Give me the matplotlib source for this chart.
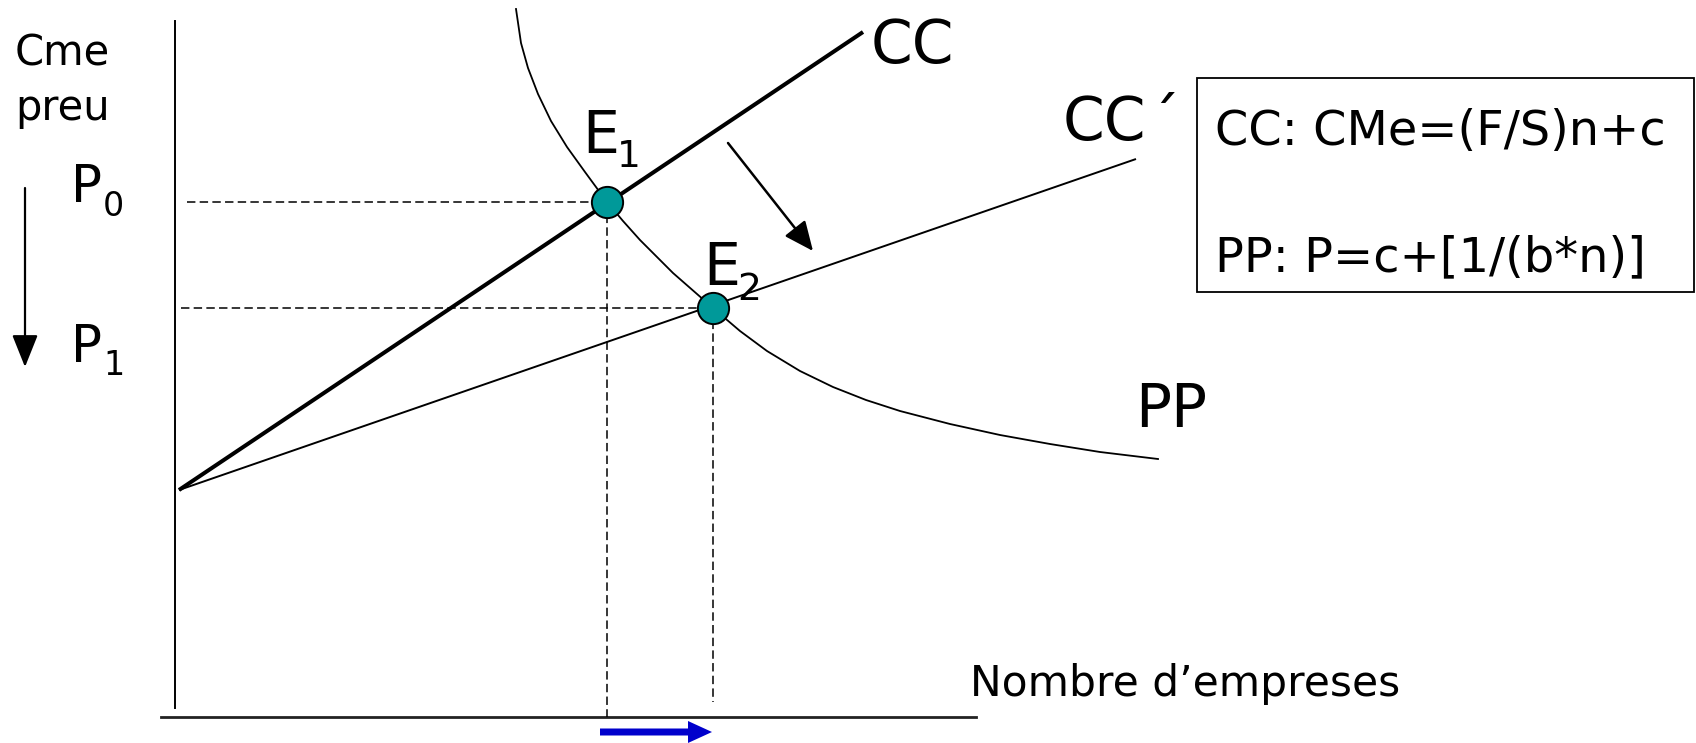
import matplotlib
matplotlib.use("Agg")
import matplotlib.pyplot as plt
from matplotlib.patches import Rectangle

# PP curve (n = number of firms, p = price / average cost)
pp_n = [3.41, 3.46, 3.53, 3.63, 3.76, 3.92, 4.10, 4.32, 4.48, 4.65, 4.98, 5.38,
        5.65, 5.92, 6.25, 6.58, 6.91, 7.25, 7.75, 8.25, 8.75, 9.25, 9.83]
pp_p = [7.08, 6.74, 6.49, 6.23, 5.96, 5.70, 5.45, 5.15, 4.96, 4.77, 4.44, 4.09,
        3.86, 3.66, 3.46, 3.30, 3.17, 3.06, 2.93, 2.82, 2.73, 2.65, 2.58]

# CC (before) and CC' (after) straight lines
cc_n = [0.04, 6.88]
cc_p = [2.27, 6.85]
cc2_n = [0.04, 9.61]
cc2_p = [2.27, 5.58]

# equilibria E1, E2
eq_n = [4.32, 5.38]
eq_p = [5.15, 4.09]
eq_labels = ["E", "E"]
eq_subs = ["1", "2"]

box_lines = ["CC: CMe=(F/S)n+c", "PP: P=c+[1/(b*n)]"]

fig = plt.figure(figsize=(16.96, 7.43), dpi=100)
ax = fig.add_axes([0, 0, 1, 1])
ax.set_xlim(-1.75, 15.21)
ax.set_ylim(-0.26, 7.17)
ax.axis("off")

# axes of the diagram
ax.plot([0, 0], [0.09, 6.96], color="black", lw=1.4)
ax.plot([-0.14, 8.01], [0, 0], color="#222222", lw=2.0)

dash = (0, (5.5, 2.8))
# dashed guides
ax.plot([0.12, eq_n[0]], [eq_p[0], eq_p[0]], color="black", lw=1.1, ls=dash)
ax.plot([0.06, eq_n[1]], [eq_p[1], eq_p[1]], color="black", lw=1.1, ls=dash)
ax.plot([eq_n[0], eq_n[0]], [eq_p[0], 0], color="black", lw=1.1, ls=dash)
ax.plot([eq_n[1], eq_n[1]], [eq_p[1], 0.15], color="black", lw=1.1, ls=dash)

# curves
ax.plot(pp_n, pp_p, color="black", lw=1.3, solid_joinstyle="round")
ax.plot(cc_n, cc_p, color="black", lw=2.9, solid_capstyle="butt")
ax.plot(cc2_n, cc2_p, color="black", lw=1.4, solid_capstyle="butt")

# equilibrium points
ax.plot(eq_n, eq_p, "o", ms=22.5, mfc="#009999", mec="black", mew=1.4, ls="none", zorder=5)

# arrows
ax.annotate("", xy=(6.38, 4.66), xytext=(5.53, 5.74),
            arrowprops=dict(arrowstyle="-|>,head_length=0.9,head_width=0.4",
                            color="black", lw=1.8, shrinkA=0, shrinkB=0,
                            mutation_scale=20))
ax.annotate("", xy=(-1.50, 3.50), xytext=(-1.50, 5.29),
            arrowprops=dict(arrowstyle="-|>,head_length=1.0,head_width=0.4",
                            color="black", lw=1.6, shrinkA=0, shrinkB=0,
                            mutation_scale=20))
ax.arrow(4.25, -0.15, 1.12, 0, width=0.07, head_width=0.22, head_length=0.24,
         length_includes_head=True, color="#0000CC", lw=0)

# texts
ax.text(-1.60, 6.52, "Cme", fontsize=30, va="baseline")
ax.text(-1.60, 5.97, "preu", fontsize=30, va="baseline")
ax.text(-1.04, 5.15, "P", fontsize=37, va="baseline")
ax.text(-0.72, 5.01, "0", fontsize=24, va="baseline")
ax.text(-1.04, 3.55, "P", fontsize=37, va="baseline")
ax.text(-0.72, 3.42, "1", fontsize=24, va="baseline")

ax.text(4.07, 5.64, eq_labels[0], fontsize=42, va="baseline")
ax.text(4.42, 5.50, eq_subs[0], fontsize=27, va="baseline")
ax.text(5.28, 4.32, eq_labels[1], fontsize=42, va="baseline")
ax.text(5.62, 4.17, eq_subs[1], fontsize=27, va="baseline")

ax.text(6.96, 6.54, "CC", fontsize=43, va="baseline")
ax.text(8.88, 5.77, "CC", fontsize=43, va="baseline")
ax.text(9.74, 5.77, "´", fontsize=43, va="baseline")
ax.text(9.60, 2.90, "PP", fontsize=43, va="baseline")

ax.text(7.95, 0.21, "Nombre d’empreses", fontsize=30.5, va="baseline")

ax.add_patch(Rectangle((10.22, 4.25), 4.97, 2.14, fill=False, ec="black", lw=1.3))
ax.text(10.40, 5.72, box_lines[0], fontsize=34.5, va="baseline")
ax.text(10.40, 4.46, box_lines[1], fontsize=34.5, va="baseline")

fig.savefig("out.png", dpi=100)
